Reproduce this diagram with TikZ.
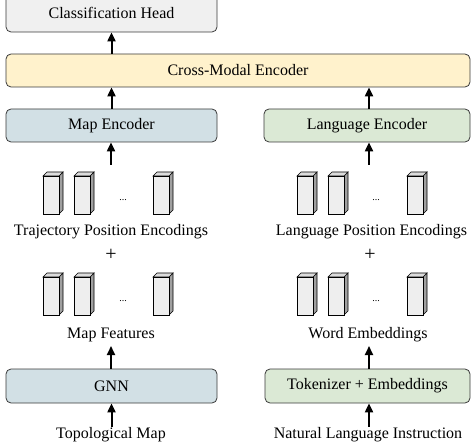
\documentclass[tikz,border=0pt]{standalone}
\usepackage{fontspec}
\setmainfont{Liberation Serif}
\usetikzlibrary{arrows.meta}
\definecolor{headfill}{HTML}{F0F0F0}
\definecolor{crossfill}{HTML}{FFF2CC}
\definecolor{mapfill}{HTML}{D2E0E5}
\definecolor{langfill}{HTML}{DBE9D5}
\definecolor{boxline}{HTML}{3A3A3A}
\definecolor{cubefront}{HTML}{EEEEEE}
\definecolor{cubetop}{HTML}{DCDCDC}
\definecolor{cubeside}{HTML}{A0A0A0}
\tikzset{
  blk/.style={draw=boxline, line width=0.8pt, rounded corners=5pt, inner sep=0pt,
    font=\fontsize{16}{19}\selectfont},
  lbl/.style={inner sep=0pt, font=\fontsize{16}{19}\selectfont},
  pluslbl/.style={inner sep=0pt, font=\fontsize{20}{24}\selectfont},
  dotlbl/.style={inner sep=0pt, font=\fontsize{10}{12}\selectfont},
  arr/.style={line width=2pt, -{Triangle[length=9pt,width=8pt]}},
  cube/.pic={
    \draw[line width=0.6pt, fill=cubeside] (16,0)--(20,-4)--(20,34)--(16,38)--cycle;
    \draw[line width=0.6pt, fill=cubetop] (0,0)--(4,-4)--(20,-4)--(16,0)--cycle;
    \draw[line width=0.6pt, fill=cubefront] (0,0) rectangle (16,38);
  }
}
\begin{document}
\begin{tikzpicture}[x=1pt,y=-1pt]
\useasboundingbox (0,0) rectangle (471,446);

% boxes
\node[blk, fill=headfill, minimum width=211pt, minimum height=38pt] (head) at (111.5,13) {\raisebox{-2pt}{Classification Head}};
\node[blk, fill=crossfill, minimum width=464pt, minimum height=33pt] (cross) at (238,70.5) {Cross-Modal Encoder};
\node[blk, fill=mapfill, minimum width=211pt, minimum height=33pt] (mapenc) at (111.5,125.5) {Map Encoder};
\node[blk, fill=langfill, minimum width=206pt, minimum height=33pt] (langenc) at (367,125.5) {Language Encoder};
\node[blk, fill=mapfill, minimum width=211pt, minimum height=34pt] (gnn) at (111.5,386) {GNN};
\node[blk, fill=langfill, minimum width=205pt, minimum height=34pt] (tok) at (367.5,386) {Tokenizer + Embeddings};

% cuboids
\foreach \cx in {43,74,153,297,328,407} {
  \pic at (\cx,176) {cube};
  \pic at (\cx,277) {cube};
}
\node[dotlbl] (dl1) at (123,200) {...};
\node[dotlbl] (dl2) at (123,301) {...};
\node[dotlbl] (dr1) at (376,200) {...};
\node[dotlbl] (dr2) at (376,301) {...};

% labels
\node[lbl, anchor=base] (trajpe) at (111,236) {Trajectory Position Encodings};
\node[pluslbl] (plusl) at (111,255) {+};
\node[lbl, anchor=base] (mapfeat) at (111,338) {Map Features};
\node[lbl, anchor=base] (topo) at (111,438) {Topological Map};
\node[lbl, anchor=base] (langpe) at (371.5,236) {Language Position Encodings};
\node[pluslbl] (plusr) at (370,255) {+};
\node[lbl, anchor=base] (wordemb) at (368,338) {Word Embeddings};
\node[lbl, anchor=base] (nli) at (368,438) {Natural Language Instruction};

\coordinate (rowl) at (111,165);
\coordinate (rowr) at (369,165);
\coordinate (mfl) at (111,346);
\coordinate (wer) at (369,346);

% arrows
\draw[arr] (cross.north -| head.south) -- (head.south);
\draw[arr] (mapenc.north) -- (cross.south -| mapenc.north);
\draw[arr] (langenc.north -| rowr) -- (cross.south -| rowr);
\draw[arr] (rowl) -- (mapenc.south -| rowl);
\draw[arr] (rowr) -- (langenc.south -| rowr);
\draw[arr] (gnn.north -| mfl) -- (mfl);
\draw[arr] (tok.north -| wer) -- (wer);
\draw[arr] (topo.north -| gnn.south) -- (gnn.south);
\draw[arr] (nli.north -| rowr) -- (tok.south -| rowr);
\end{tikzpicture}
\end{document}
